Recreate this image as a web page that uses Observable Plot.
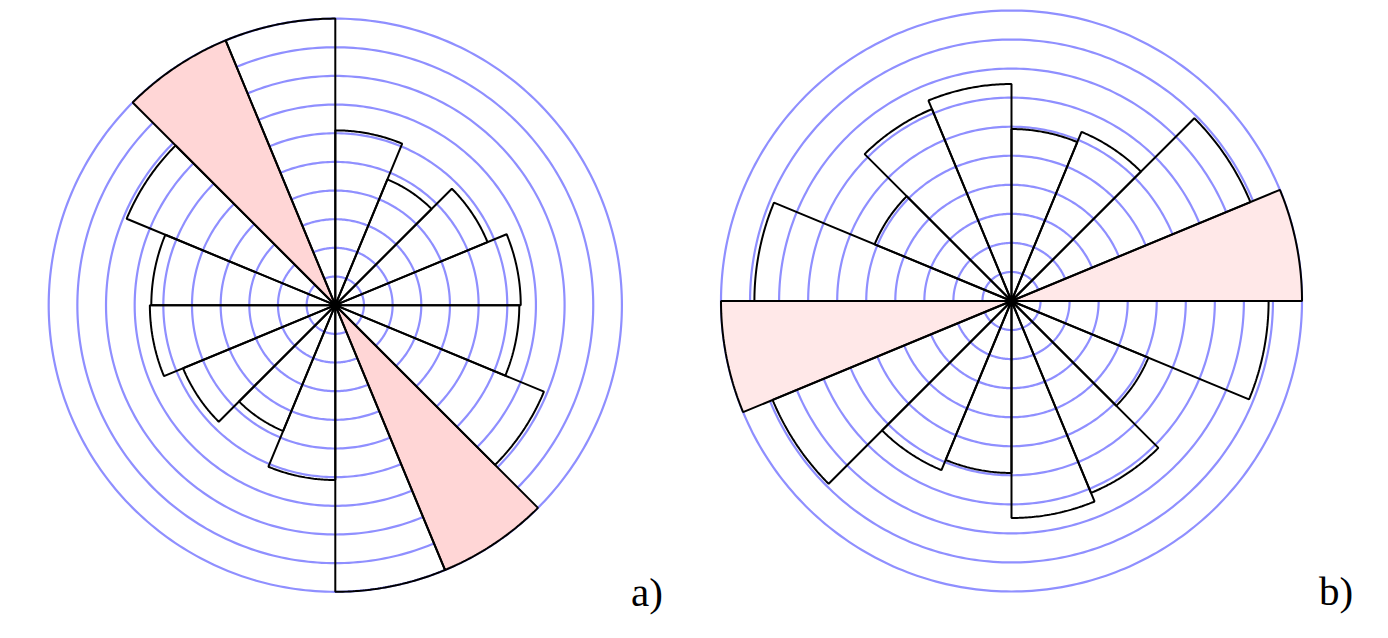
<!DOCTYPE html>
<html><head><meta charset="utf-8">
<script src="https://cdn.jsdelivr.net/npm/d3@7"></script>
<script src="https://cdn.jsdelivr.net/npm/@observablehq/plot@0.6"></script>
<style>
html,body{margin:0;padding:0;background:#fff;}
#wrap{position:relative;width:1388px;height:638px;overflow:hidden;background:#fff;}
.panel{position:absolute;top:0;}
.lbl{position:absolute;font-family:"Liberation Serif","DejaVu Serif",serif;font-size:41px;line-height:1;color:#000;}
</style></head><body><div id="wrap"></div>
<script>
// Sector start bearings (degrees clockwise from north), each sector 22.5° wide
const sectorStarts = [0, 22.5, 45, 67.5, 90, 112.5, 135, 157.5, 180, 202.5, 225, 247.5, 270, 292.5, 315, 337.5];
const sectorWidth = 22.5;
// Reference circles (ring values)
const ringValues = [1, 2, 3, 4, 5, 6, 7, 8, 9, 10];
// Rose a) sector lengths
const valuesA = [6.1, 4.75, 5.75, 6.47, 6.42, 7.88, 10, 10, 6.1, 4.75, 5.75, 6.47, 6.42, 7.88, 10, 10];
// Rose b) sector lengths
const valuesB = [5.92, 6.3, 8.9, 10, 8.85, 5.1, 7.15, 7.47, 5.92, 6.3, 8.9, 10, 8.85, 5.1, 7.15, 7.47];
// Highlighted (modal) sectors, by start bearing
const highlightA = [135, 315];
const highlightB = [67.5, 247.5];
const panelLabels = ["a)", "b)"];

const ringColor = "#8f8fff";
const pinkA = "#ffd6d6";
const pinkB = "#ffe8e8";

function arc(r, a0, a1, id, step = 0.5) {
  const pts = [];
  const n = Math.max(2, Math.ceil((a1 - a0) / step));
  for (let i = 0; i <= n; i++) {
    const a = (a0 + (a1 - a0) * i / n) * Math.PI / 180;
    pts.push({id, x: r * Math.sin(a), y: r * Math.cos(a)});
  }
  return pts;
}
function rings() {
  return ringValues.flatMap(v => arc(v, 0, 360, "ring" + v, 1));
}
function sectors(values, highlight, wantHighlight) {
  const out = [];
  sectorStarts.forEach((s, i) => {
    if (highlight.includes(s) !== wantHighlight) return;
    const id = "s" + i;
    out.push({id, x: 0, y: 0});
    out.push(...arc(values[i], s, s + sectorWidth, id));
    out.push({id, x: 0, y: 0});
  });
  return out;
}

const panels = [
  {left: 0, width: 694, cx: 334.8, cy: 304.7, unit: 28.66, values: valuesA, hl: highlightA, pink: pinkA, label: panelLabels[0], lx: 631, ly: 572},
  {left: 694, width: 694, cx: 317, cy: 300.5, unit: 29.05, values: valuesB, hl: highlightB, pink: pinkB, label: panelLabels[1], lx: 1319, ly: 571}
];
const H = 638;
const wrap = document.getElementById("wrap");
for (const p of panels) {
  const chart = Plot.plot({
    width: p.width,
    height: H,
    margin: 0,
    style: {background: "transparent", overflow: "visible"},
    x: {domain: [-p.cx / p.unit, (p.width - p.cx) / p.unit], axis: null},
    y: {domain: [-(H - p.cy) / p.unit, p.cy / p.unit], axis: null},
    marks: [
      Plot.line(rings(), {x: "x", y: "y", z: "id", stroke: ringColor, strokeWidth: 2.2}),
      Plot.line(sectors(p.values, p.hl, true), {x: "x", y: "y", z: "id", fill: p.pink, stroke: "#000", strokeWidth: 2, strokeLinejoin: "miter"}),
      Plot.line(sectors(p.values, p.hl, false), {x: "x", y: "y", z: "id", fill: "none", stroke: "#000", strokeWidth: 2, strokeLinejoin: "miter"})
    ]
  });
  chart.classList.add("panel");
  chart.style.left = p.left + "px";
  wrap.appendChild(chart);
  const lbl = document.createElement("div");
  lbl.className = "lbl";
  lbl.textContent = p.label;
  lbl.style.left = p.lx + "px";
  lbl.style.top = p.ly + "px";
  wrap.appendChild(lbl);
}
</script></body></html>
